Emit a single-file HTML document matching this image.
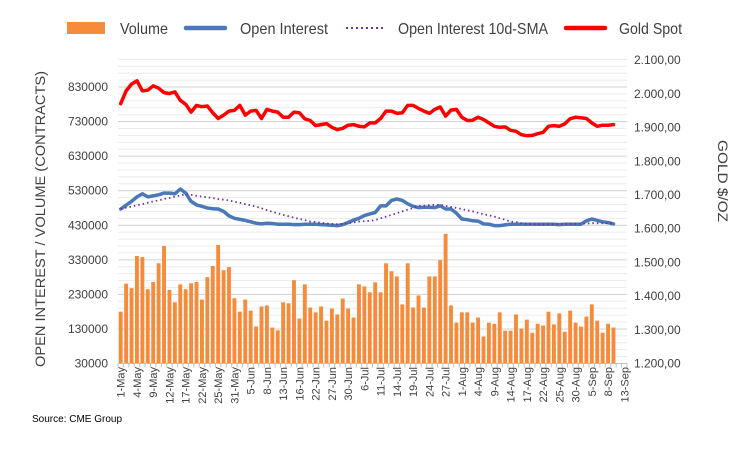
<!DOCTYPE html>
<html><head><meta charset="utf-8"><style>
html,body{margin:0;padding:0;background:#fff;}
svg{display:block;font-family:"Liberation Sans",sans-serif;}
</style></head><body>
<svg id="chart" width="752" height="458">
  <g id="grid"></g>
  <g id="bars"></g>
  <g id="lines"></g>
  <g id="axes"></g>
  <g>
    <rect x="67" y="22" width="38" height="12" fill="#f58c3c"/>
    <text x="120" y="34" font-size="16" fill="#404040" textLength="48" lengthAdjust="spacingAndGlyphs">Volume</text>
    <line x1="186" y1="28" x2="225" y2="28" stroke="#4a78b8" stroke-width="4.5" stroke-linecap="round"/>
    <text x="240" y="34" font-size="16" fill="#404040" textLength="88" lengthAdjust="spacingAndGlyphs">Open Interest</text>
    <line x1="346" y1="28" x2="383" y2="28" stroke="#7030a0" stroke-width="2" stroke-dasharray="2,3"/>
    <text x="398" y="34" font-size="16" fill="#404040" textLength="150" lengthAdjust="spacingAndGlyphs">Open Interest 10d-SMA</text>
    <line x1="566" y1="28" x2="605" y2="28" stroke="#ff0000" stroke-width="4.5" stroke-linecap="round"/>
    <text x="619" y="34" font-size="16" fill="#404040" textLength="63" lengthAdjust="spacingAndGlyphs">Gold Spot</text>
  </g>
  <text transform="translate(45,219) rotate(-90)" text-anchor="middle" font-size="14" fill="#404040" textLength="296" lengthAdjust="spacingAndGlyphs">OPEN INTEREST / VOLUME (CONTRACTS)</text>
  <text transform="translate(718,181) rotate(90)" text-anchor="middle" font-size="14" fill="#404040" textLength="82" lengthAdjust="spacingAndGlyphs">GOLD $/OZ</text>
  <text x="32" y="422" font-size="10" fill="#000">Source: CME Group</text>
</svg>
<script>
const xLabels=["1-May","4-May","9-May","12-May","17-May","22-May","25-May","31-May","5-Jun","8-Jun","13-Jun","16-Jun","22-Jun","27-Jun","30-Jun","6-Jul","11-Jul","14-Jul","19-Jul","24-Jul","27-Jul","1-Aug","4-Aug","9-Aug","14-Aug","17-Aug","22-Aug","25-Aug","30-Aug","5-Sep","8-Sep","13-Sep"];
const leftTicks=[30000,130000,230000,330000,430000,530000,630000,730000,830000];
const rightTicks=[1200,1300,1400,1500,1600,1700,1800,1900,2000,2100];
const rightTickLabels=["1.200,00","1.300,00","1.400,00","1.500,00","1.600,00","1.700,00","1.800,00","1.900,00","2.000,00","2.100,00"];
const volume=[180,261,248,341,338,245,266,320,370,243,207,259,245,262,266,215,280,312,373,300,309,219,180,215,183,137,195,198,134,126,207,204,271,160,259,192,178,195,154,189,172,218,189,163,259,253,236,265,236,320,297,282,201,320,192,227,192,282,282,329,405,198,148,178,178,148,163,108,148,145,178,125,125,172,131,157,119,145,140,180,143,175,122,183,148,137,166,201,154,119,145,134];
const openInterest=[477,488,499,512,521,512,515,518,523,523,521,535,523,499,489,485,480,478,477,470,457,450,447,444,440,436,434,436,435,433,433,433,432,432,433,433,433,432,431,430,429,432,438,445,450,458,463,467,486,486,502,506,502,492,485,481,482,482,481,486,477,477,465,448,446,443,442,434,433,429,429,431,433,433,433,433,433,433,433,433,433,432,433,433,433,433,443,448,444,440,438,434];
const oiSma=[477,481,484,488,491,495,499,502,506,509,513,516,520,518,515,513,511,509,506,504,502,498,495,491,488,484,479,474,469,465,460,456,452,448,445,441,439,437,435,434,433,434,436,438,441,442,443,445,450,455,460,465,470,475,480,486,487,488,489,489,486,483,480,477,473,470,466,462,459,455,450,446,441,439,436,434,433,433,433,433,433,433,434,434,434,435,435,436,436,436,436,436];
const goldSpot=[1971,2009,2029,2039,2009,2011,2024,2017,2004,2001,2006,1981,1969,1946,1966,1962,1964,1944,1927,1937,1949,1951,1966,1937,1949,1951,1927,1954,1949,1946,1931,1931,1946,1944,1926,1921,1906,1909,1912,1901,1894,1898,1907,1909,1904,1902,1914,1914,1927,1949,1949,1942,1944,1966,1966,1957,1949,1942,1954,1961,1934,1952,1954,1931,1921,1922,1931,1924,1914,1904,1901,1902,1892,1889,1879,1876,1877,1882,1886,1904,1906,1904,1911,1926,1931,1929,1927,1914,1904,1907,1907,1909];
const NCAT=94;
const X0=118,X1=627,YB=363.5;
const step=(X1-X0)/NCAT;
const xC=i=>X0+step*(i+0.5);
const yL=v=>YB-(v-30000)*0.0003456;
const yR=v=>YB-(v-1200)*0.337;
const NS="http://www.w3.org/2000/svg";
function mk(tag,parent,attrs){const e=document.createElementNS(NS,tag);for(const k in attrs)e.setAttribute(k,attrs[k]);parent.appendChild(e);return e;}
const grid=document.getElementById('grid'),bars=document.getElementById('bars'),lines=document.getElementById('lines'),axes=document.getElementById('axes');
for(let v=30000;v<=910000;v+=20000){
  const major=((v-30000)%100000)===0;
  const l=mk('line',grid,{x1:X0,x2:X1,y1:yL(v),y2:yL(v),stroke:major?'#d0d0d0':'#ececec','stroke-width':1});
  
  
}
leftTicks.forEach(v=>{
  const t=mk('text',axes,{x:108,y:yL(v)+4,'text-anchor':'end','font-size':12,fill:'#404040'});
  t.textContent=String(v);
  
  
});
rightTicks.forEach((v,i)=>{
  const t=mk('text',axes,{x:634,y:yR(v)+4,'font-size':12,fill:'#404040'});
  t.textContent=rightTickLabels[i];
  
  
});
volume.forEach((v,i)=>{
  const y=yL(v*1000);
  const r=mk('rect',bars,{x:xC(i)-step*0.36,width:step*0.72,y:y,height:YB-y,fill:'#f58c3c'});
  
  
});
function path(arr,f,attrs,name){
  const d=arr.map((v,i)=>(i?'L':'M')+xC(i).toFixed(1)+','+f(v).toFixed(1)).join('');
  const p=mk('path',lines,Object.assign({d:d,fill:'none','stroke-linejoin':'round','stroke-linecap':'round'},attrs));
  
  
}
path(openInterest,v=>yL(v*1000),{stroke:'#4a78b8','stroke-width':3.5},'open-interest-line');
path(oiSma,v=>yL(v*1000),{stroke:'#7030a0','stroke-width':1.8,'stroke-dasharray':'1.5,3','stroke-linecap':'butt'},'oi-sma-line');
path(goldSpot,yR,{stroke:'#ff0000','stroke-width':3.5},'gold-spot-line');
const ax=mk('line',axes,{x1:X0,x2:X1,y1:YB,y2:YB,stroke:'#bfbfbf','stroke-width':1});


for(let i=0;i<=NCAT;i++){
  const x=X0+step*i;
  const tk=mk('line',axes,{x1:x,x2:x,y1:YB,y2:YB+4,stroke:'#bfbfbf','stroke-width':1});
  
  
}
xLabels.forEach((s,j)=>{
  const x=xC(j*3)+4;
  const t=mk('text',axes,{transform:`translate(${x},367) rotate(-90)`,'text-anchor':'end','font-size':11,fill:'#404040'});
  t.textContent=s;
  
  
});
</script>
</body></html>
